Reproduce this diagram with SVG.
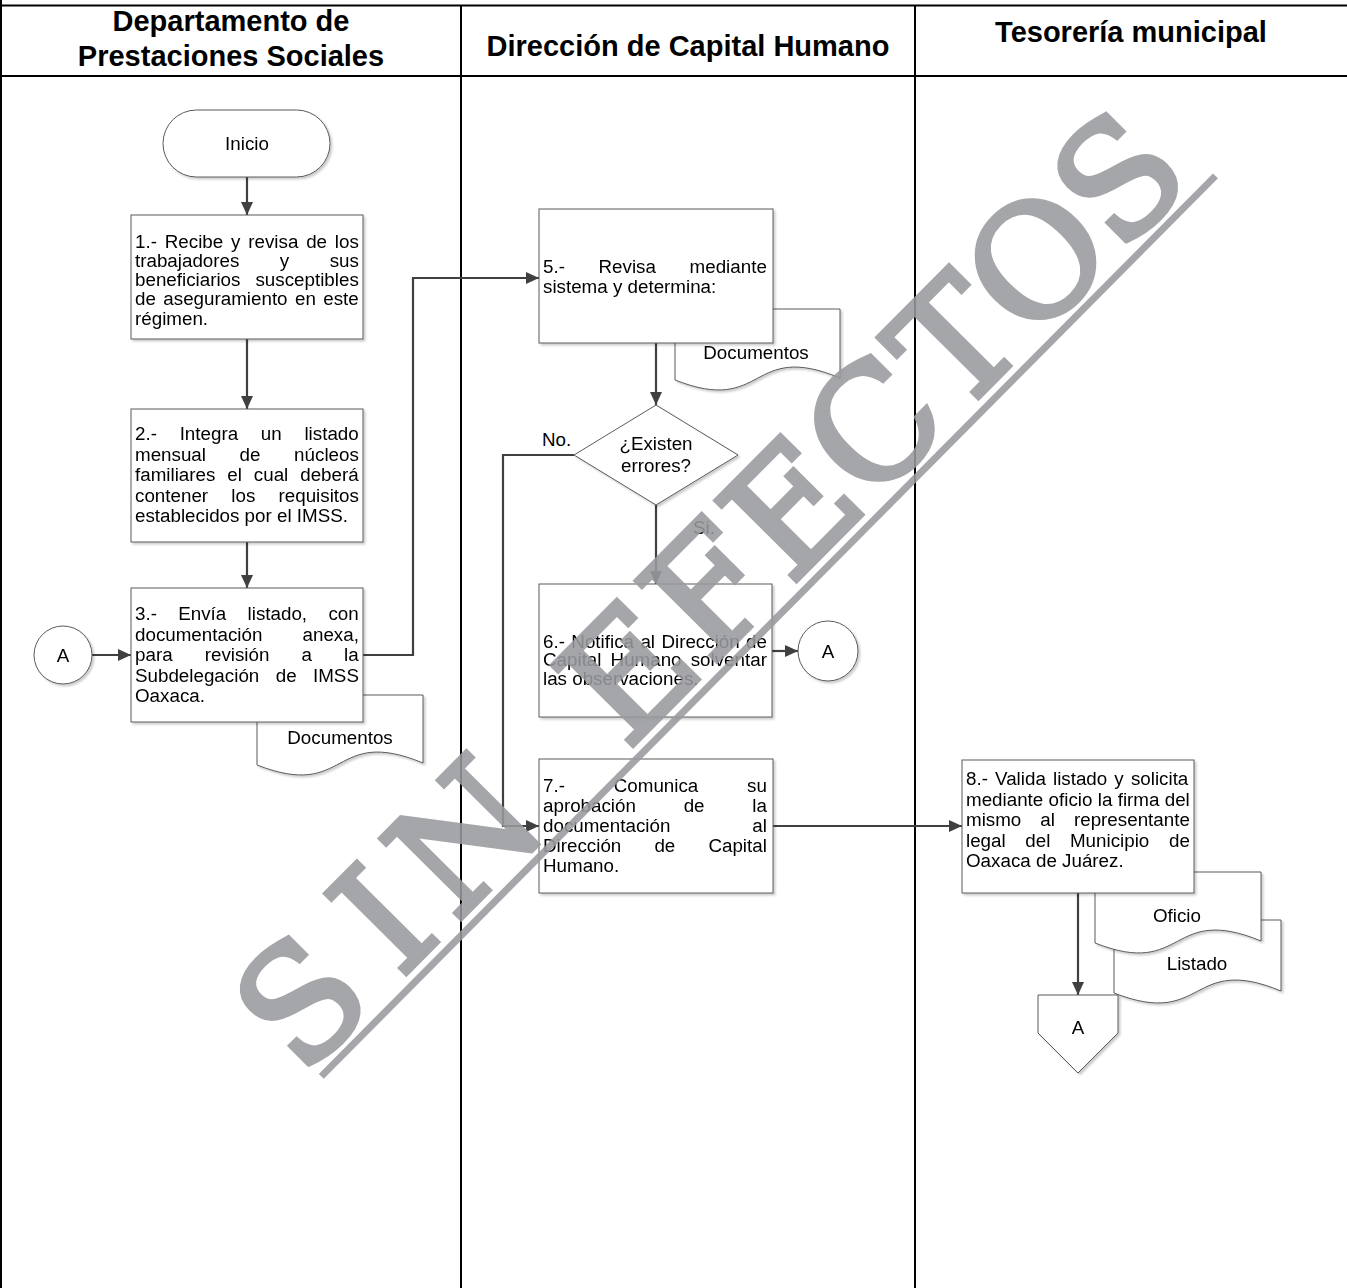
<svg xmlns="http://www.w3.org/2000/svg" width="1347" height="1288" viewBox="0 0 1347 1288">
  <defs>
    <style>
      .lane { stroke: #000; stroke-width: 2; fill: none; }
      .hdr { font-family: "Liberation Sans", Arial, sans-serif; font-weight: bold; font-size: 29px; fill: #000; text-anchor: middle; }
      .box { fill: #fff; stroke: #5a5a5a; stroke-width: 1; }
      .t { font-family: "Liberation Sans", Arial, sans-serif; font-size: 18.8px; fill: #000; }
      .c { text-anchor: middle; }
      .conn { fill: none; stroke: #404040; stroke-width: 2.2; }
      .wm { font-family: "DejaVu Serif", "Liberation Serif", serif; font-size: 156px; fill: #999a9e; stroke: #999a9e; stroke-width: 5; stroke-linejoin: miter; }
    </style>
    <filter id="sh" x="-5%" y="-5%" width="115%" height="115%">
      <feDropShadow dx="2" dy="2" stdDeviation="1.2" flood-color="#000" flood-opacity="0.2"/>
    </filter>
    <marker id="ah" markerWidth="13" markerHeight="12" refX="13" refY="6" orient="auto" markerUnits="userSpaceOnUse">
      <path d="M0,0 L13,6 L0,12 z" fill="#404040"/>
    </marker>
  </defs>

  <rect width="1347" height="1288" fill="#fff"/>

  <!-- swimlane frame -->
  <g id="lanes">
    <line class="lane" x1="1" y1="0" x2="1" y2="1288"/>
    <line class="lane" x1="0" y1="5.5" x2="1347" y2="5.5" stroke-width="2.6"/>
    <line class="lane" x1="0" y1="76" x2="1347" y2="76" stroke-width="2.8"/>
    <line class="lane" x1="461" y1="5" x2="461" y2="1288"/>
    <line class="lane" x1="915" y1="5" x2="915" y2="1288"/>
    <text class="hdr" x="231" y="31">Departamento de</text>
    <text class="hdr" x="231" y="66">Prestaciones Sociales</text>
    <text class="hdr" x="688" y="56">Dirección de Capital Humano</text>
    <text class="hdr" x="1131" y="42">Tesorería municipal</text>
  </g>

  <!-- documents (drawn beneath their process boxes) -->
  <g id="doc-documentos-1" filter="url(#sh)">
    <path class="box" d="M257,695 H423 V763 C331,725 349,801 257,765 Z"/>
    <text class="t c" x="340" y="744">Documentos</text>
  </g>
  <g id="doc-documentos-2" filter="url(#sh)">
    <path class="box" d="M675,309 H840 V378 C749,340 766,416 675,380 Z"/>
    <text class="t c" x="756" y="358.5">Documentos</text>
  </g>
  <g id="doc-listado" filter="url(#sh)">
    <path class="box" d="M1114,920 H1281 V991 C1189,953 1206,1029 1114,993 Z"/>
    <text class="t c" x="1197" y="969.5">Listado</text>
  </g>
  <g id="doc-oficio" filter="url(#sh)">
    <path class="box" d="M1095,872 H1261 V941 C1169,903 1186,979 1095,943 Z"/>
    <text class="t c" x="1177" y="921.5">Oficio</text>
  </g>

  <!-- connectors -->
  <g id="connectors">
    <path class="conn" d="M247,177 V215" marker-end="url(#ah)"/>
    <path class="conn" d="M247,339 V409" marker-end="url(#ah)"/>
    <path class="conn" d="M247,542 V588" marker-end="url(#ah)"/>
    <path class="conn" d="M92,655 H131" marker-end="url(#ah)"/>
    <path class="conn" d="M363,655 H413 V278 H539" marker-end="url(#ah)"/>
    <path class="conn" d="M656,343 V405" marker-end="url(#ah)"/>
    <path class="conn" d="M574,455 H503 V826 H539" marker-end="url(#ah)"/>
    <path class="conn" d="M656,505 V584" marker-end="url(#ah)"/>
    <path class="conn" d="M772,651 H798" marker-end="url(#ah)"/>
    <path class="conn" d="M773,826 H962" marker-end="url(#ah)"/>
    <path class="conn" d="M1078,893 V995" marker-end="url(#ah)"/>
    <text class="t" x="542" y="446">No.</text>
    <text class="t" x="693" y="534">Si.</text>
  </g>

  <!-- start -->
  <g id="inicio" filter="url(#sh)">
    <rect class="box" x="163" y="110" width="167" height="67" rx="33.5"/>
    <text class="t c" x="247" y="149.5">Inicio</text>
  </g>

  <!-- step 1 -->
  <g id="paso-1" filter="url(#sh)">
    <rect class="box" x="131" y="215" width="232" height="124"/>
    <text class="t" x="135" y="247.5" word-spacing="2.6">1.- Recibe y revisa de los</text>
    <text class="t" x="135" y="266.8" word-spacing="35.2">trabajadores y sus</text>
    <text class="t" x="135" y="286.1" word-spacing="9.8">beneficiarios susceptibles</text>
    <text class="t" x="135" y="305.4" word-spacing="2.2">de aseguramiento en este</text>
    <text class="t" x="135" y="324.7">régimen.</text>
  </g>

  <!-- step 2 -->
  <g id="paso-2" filter="url(#sh)">
    <rect class="box" x="131" y="409" width="232" height="133"/>
    <text class="t" x="135" y="440" word-spacing="17.5">2.- Integra un listado</text>
    <text class="t" x="135" y="460.6" word-spacing="28.4">mensual de núcleos</text>
    <text class="t" x="135" y="481.2" word-spacing="6.7">familiares el cual deberá</text>
    <text class="t" x="135" y="501.8" word-spacing="18">contener los requisitos</text>
    <text class="t" x="135" y="522.4">establecidos por el IMSS.</text>
  </g>

  <!-- step 3 -->
  <g id="paso-3" filter="url(#sh)">
    <rect class="box" x="131" y="588" width="232" height="134"/>
    <text class="t" x="135" y="620" word-spacing="16.1">3.- Envía listado, con</text>
    <text class="t" x="135" y="640.5" word-spacing="34.9">documentación anexa,</text>
    <text class="t" x="135" y="661" word-spacing="26.9">para revisión a la</text>
    <text class="t" x="135" y="681.5" word-spacing="11.2">Subdelegación de IMSS</text>
    <text class="t" x="135" y="702">Oaxaca.</text>
  </g>

  <!-- off-page reference into step 3 -->
  <g id="conector-a-entrada" filter="url(#sh)">
    <circle class="box" cx="63" cy="655" r="29"/>
    <text class="t c" x="63" y="661.5">A</text>
  </g>

  <!-- step 5 -->
  <g id="paso-5" filter="url(#sh)">
    <rect class="box" x="539" y="209" width="234" height="134"/>
    <text class="t" x="543" y="273" word-spacing="28.4">5.- Revisa mediante</text>
    <text class="t" x="543" y="292.5">sistema y determina:</text>
  </g>

  <!-- decision -->
  <g id="decision" filter="url(#sh)">
    <path class="box" d="M656,405 L738,455 L656,505 L574,455 Z"/>
    <text class="t c" x="656" y="449.5">¿Existen</text>
    <text class="t c" x="656" y="472">errores?</text>
  </g>

  <!-- step 6 -->
  <g id="paso-6" filter="url(#sh)">
    <rect class="box" x="539" y="584" width="233" height="133"/>
    <text class="t" x="543" y="647.5" word-spacing="1.2">6.- Notifica al Dirección de</text>
    <text class="t" x="543" y="666" word-spacing="3.9">Capital Humano solventar</text>
    <text class="t" x="543" y="684.5">las observaciones.</text>
  </g>

  <g id="conector-a-salida" filter="url(#sh)">
    <circle class="box" cx="828" cy="651" r="30"/>
    <text class="t c" x="828" y="657.5">A</text>
  </g>

  <!-- step 7 -->
  <g id="paso-7" filter="url(#sh)">
    <rect class="box" x="539" y="759" width="234" height="134"/>
    <text class="t" x="543" y="791.5" word-spacing="43.6">7.- Comunica su</text>
    <text class="t" x="543" y="811.7" word-spacing="42.5">aprobación de la</text>
    <text class="t" x="543" y="831.9" word-spacing="76.7">documentación al</text>
    <text class="t" x="543" y="852.1" word-spacing="27.9">Dirección de Capital</text>
    <text class="t" x="543" y="872.3">Humano.</text>
  </g>

  <!-- step 8 -->
  <g id="paso-8" filter="url(#sh)">
    <rect class="box" x="962" y="760" width="232" height="133"/>
    <text class="t" x="966" y="785" word-spacing="1.9">8.- Valida listado y solicita</text>
    <text class="t" x="966" y="805.5" word-spacing="0.1">mediante oficio la firma del</text>
    <text class="t" x="966" y="826" word-spacing="13.8">mismo al representante</text>
    <text class="t" x="966" y="846.5" word-spacing="14.4">legal del Municipio de</text>
    <text class="t" x="966" y="867">Oaxaca de Juárez.</text>
  </g>

  <!-- off-page connector -->
  <g id="fuera-de-pagina-a" filter="url(#sh)">
    <path class="box" d="M1038,995 H1118 V1033 L1078,1073 L1038,1033 Z"/>
    <text class="t c" x="1078" y="1034">A</text>
  </g>

  <!-- watermark stamp: each letter centred on a fixed pitch -->
  <g id="sello" opacity="0.88">
    <g transform="translate(708.5,588.5) rotate(-45.2)">
      <text class="wm" x="-580 -464 -348 -232 -116 0 116 232 348 464 580" y="57" text-anchor="middle">SIN EFECTOS</text>
      <line x1="-619" y1="69" x2="650" y2="69" stroke="#999a9e" stroke-width="7"/>
    </g>
  </g>
</svg>
